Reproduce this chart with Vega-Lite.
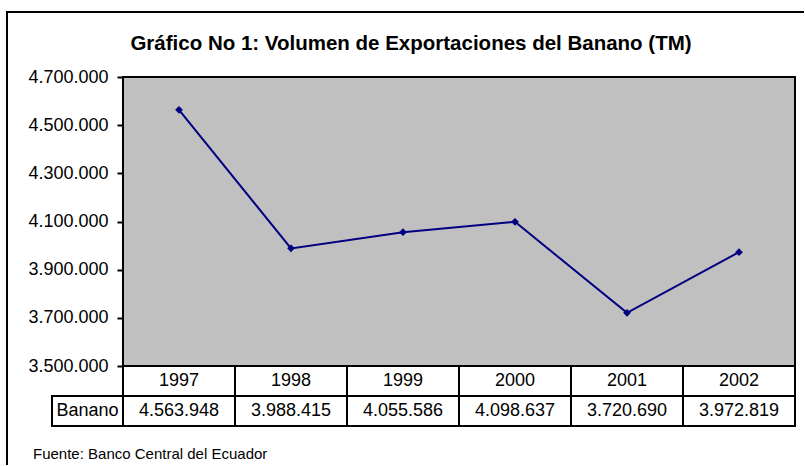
{
  "$schema": "https://vega.github.io/schema/vega-lite/v6.json",
  "padding": {"left": 6, "top": 11, "right": 0, "bottom": 0},
  "background": "white",
  "config": {
    "font": "Liberation Sans",
    "locale": {"number": {"decimal": ",", "thousands": ".", "grouping": [3], "currency": ["", ""]}},
    "view": {"stroke": null}
  },
  "datasets": {
    "banano": [
      {"anio": "1997", "toneladas": 4563948},
      {"anio": "1998", "toneladas": 3988415},
      {"anio": "1999", "toneladas": 4055586},
      {"anio": "2000", "toneladas": 4098637},
      {"anio": "2001", "toneladas": 3720690},
      {"anio": "2002", "toneladas": 3972819}
    ],
    "serie": [{"serie": "Banano"}]
  },
  "bounds": "flush",
  "spacing": 0,
  "columns": 4,
  "concat": [
    {"width": 45, "height": 65, "data": {"values": []}, "mark": "point",
     "view": {"stroke": "black", "strokeWidth": 2, "strokeDash": [45, 110, 65]}},
    {"width": 71, "height": 65, "data": {"values": []}, "mark": "point",
     "view": {"stroke": "black", "strokeWidth": 2, "strokeDash": [71, 201]}},
    {"width": 672, "height": 65, "data": {"values": []}, "mark": "point",
     "view": {"stroke": "black", "strokeWidth": 2, "strokeDash": [672, 802]}},
    {"width": 9, "height": 65, "data": {"values": []}, "mark": "point",
     "view": {"stroke": "black", "strokeWidth": 2, "strokeDash": [9, 139]}},

    {"width": 45, "height": 289, "data": {"values": []}, "mark": "point",
     "view": {"stroke": "black", "strokeWidth": 2, "strokeDash": [0, 379, 289]}},
    {"width": 71, "height": 289, "data": {"values": []}, "mark": "point"},
    {
      "width": 672,
      "height": 289,
      "data": {"name": "banano"},
      "title": {
        "text": "Gráfico No 1: Volumen de Exportaciones del Banano (TM)",
        "fontSize": 20.5,
        "fontWeight": "bold",
        "color": "black",
        "anchor": "middle",
        "frame": "group",
        "dx": -48,
        "offset": 14
      },
      "view": {"fill": "#c0c0c0", "stroke": "black", "strokeWidth": 2},
      "mark": {
        "type": "line",
        "color": "#000080",
        "strokeWidth": 2,
        "point": {"shape": "diamond", "filled": true, "size": 60, "color": "#000080"}
      },
      "encoding": {
        "x": {"field": "anio", "type": "ordinal", "scale": {"type": "point", "padding": 0.5}, "axis": null},
        "y": {
          "field": "toneladas",
          "type": "quantitative",
          "scale": {"domain": [3500000, 4700000], "zero": false, "nice": false},
          "axis": {
            "title": null,
            "values": [3500000, 3700000, 3900000, 4100000, 4300000, 4500000, 4700000],
            "format": ",d",
            "domain": false,
            "grid": false,
            "tickSize": 6,
            "tickWidth": 2,
            "tickColor": "black",
            "labelFontSize": 18,
            "labelColor": "black",
            "labelPadding": 9,
            "labelFlush": false,
            "labelOverlap": false
          }
        }
      }
    },
    {"width": 9, "height": 289, "data": {"values": []}, "mark": "point"},

    {"width": 45, "height": 60, "data": {"values": []}, "mark": "point",
     "view": {"stroke": "black", "strokeWidth": 2, "strokeDash": [0, 150, 60]}},
    {
      "width": 71,
      "height": 60,
      "data": {"name": "serie"},
      "title": {
        "text": "Fuente: Banco Central del Ecuador",
        "orient": "bottom",
        "anchor": "start",
        "frame": "group",
        "fontSize": 15,
        "fontWeight": "normal",
        "color": "black",
        "dx": -19,
        "offset": 20
      },
      "layer": [
        {
          "mark": {"type": "rect", "fill": "white", "stroke": "black", "strokeWidth": 2},
          "encoding": {
            "y": {"field": "serie", "type": "nominal", "scale": {"domain": ["Año", "Banano"], "paddingInner": 0, "paddingOuter": 0}, "axis": null}
          }
        },
        {
          "mark": {"type": "text", "fontSize": 18, "color": "black"},
          "encoding": {
            "y": {"field": "serie", "type": "nominal"},
            "text": {"field": "serie", "type": "nominal"}
          }
        }
      ]
    },
    {
      "width": 672,
      "height": 60,
      "data": {"name": "banano"},
      "encoding": {
        "x": {"field": "anio", "type": "ordinal", "scale": {"type": "band", "paddingInner": 0, "paddingOuter": 0}, "axis": null}
      },
      "layer": [
        {
          "mark": {"type": "rect", "fill": "white", "stroke": "black", "strokeWidth": 2},
          "encoding": {
            "y": {"datum": "Año", "type": "nominal", "scale": {"domain": ["Año", "Banano"], "paddingInner": 0, "paddingOuter": 0}, "axis": null}
          }
        },
        {
          "mark": {"type": "rect", "fill": "white", "stroke": "black", "strokeWidth": 2},
          "encoding": {"y": {"datum": "Banano", "type": "nominal"}}
        },
        {
          "mark": {"type": "text", "fontSize": 18, "color": "black"},
          "encoding": {
            "y": {"datum": "Año", "type": "nominal"},
            "text": {"field": "anio", "type": "nominal"}
          }
        },
        {
          "mark": {"type": "text", "fontSize": 18, "color": "black"},
          "encoding": {
            "y": {"datum": "Banano", "type": "nominal"},
            "text": {"field": "toneladas", "type": "quantitative", "format": ",d"}
          }
        }
      ]
    },
    {"width": 9, "height": 60, "data": {"values": []}, "mark": "point"},

    {"width": 45, "height": 39, "data": {"values": []}, "mark": "point",
     "view": {"stroke": "black", "strokeWidth": 2, "strokeDash": [0, 129, 39]}}
  ]
}
